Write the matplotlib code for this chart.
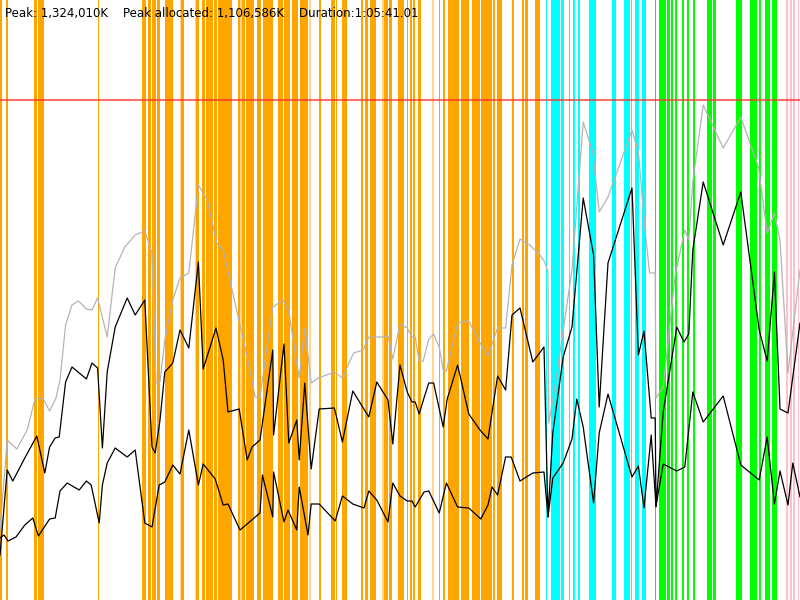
import matplotlib
matplotlib.use("Agg")
import matplotlib.pyplot as plt
import numpy as np

PEAK_K = 1324010
PEAK_ALLOC_K = 1106586
DURATION_S = 1 * 3600 + 5 * 60 + 41.01

# time as % of the run, memory as % of peak
total_t = [0, 0.9, 2.1, 3.4, 4.4, 5.4, 6.2, 7.0, 7.5, 8.2, 9.0, 9.8, 10.8, 11.5, 12.2, 13.4, 14.4, 15.6,
           16.9, 18.1, 19.0, 19.5, 20.0, 20.6, 21.6, 22.5, 23.6, 24.8, 25.9, 27.1, 27.9, 29.1, 30.9, 31.9,
           32.5, 33.8, 34.1, 35.4, 36.1, 37.4, 38.1, 38.9, 39.8, 41.8, 42.8, 44.2, 45.4, 46.1, 47.6, 48.5,
           49.1, 50.0, 50.9, 51.5, 51.9, 52.4, 52.9, 53.6, 54.2, 54.9, 55.4, 55.8, 57.2, 58.6, 60.0, 61.0,
           62.2, 63.2, 64.0, 65.0, 66.2, 67.5, 68.1, 68.5, 68.6, 69.5, 70.4, 71.5, 72.9, 74.1, 74.9, 76.0,
           79.0, 79.8, 80.6, 81.2, 81.9, 82.0, 82.9, 84.4, 85.6, 86.1, 86.6, 87.9, 90.4, 92.6, 94.8, 95.9,
           96.8, 97.5, 98.5, 100]
total_mem = [14, 32, 30.2, 34, 40.4, 40.2, 37.8, 40.4, 44, 55, 59, 59.8, 58.2, 58, 60.4, 52.6, 66.4, 70.6,
             73, 73.8, 69.4, 43.4, 43.6, 52, 60, 64.4, 65.4, 83, 80, 71.4, 70, 61.4, 48.6, 40.6,
             40.6, 55.4, 58.6, 60, 57.6, 44.4, 54.4, 43.4, 44.4, 45.6, 44.4, 49.4, 50, 52.6, 52.6, 52.8,
             48.2, 55.2, 54.4, 52.6, 52.6, 47.6, 47.8, 52.2, 53.2, 50.6, 46, 45.8, 55.4, 55.8, 51.4, 48.8,
             54.4, 54.4, 67, 72.2, 71, 69, 67.6, 65.6, 35.4, 44, 54, 66, 95.6, 89.6, 77.6, 80.6,
             94, 89.6, 74.6, 65.4, 65.4, 40.4, 42.6, 65, 74, 72, 83.6, 99, 90.4, 96.6, 86.6, 73.4,
             77.4, 72, 45.4, 66]

used_t = [0, 0.9, 1.6, 3.1, 4.6, 5.6, 6.2, 6.9, 7.4, 8.2, 9.0, 10.8, 11.5, 12.2, 12.8, 13.4, 14.4, 15.9,
          16.9, 18.1, 19.0, 19.4, 20.0, 20.6, 21.6, 22.5, 23.6, 24.8, 25.4, 27.0, 27.9, 28.5, 29.9, 30.9,
          31.5, 32.5, 34.1, 34.2, 35.5, 36.1, 37.1, 37.4, 38.1, 38.9, 39.9, 41.8, 42.8, 44.1, 46.1, 47.1,
          48.5, 49.1, 50.0, 50.9, 51.5, 51.9, 52.4, 53.0, 53.6, 54.2, 55.4, 55.9, 57.2, 58.6, 60.0, 61.0,
          62.2, 63.2, 64.0, 65.0, 66.6, 68.0, 68.5, 69.1, 70.4, 71.5, 72.9, 74.2, 74.9, 76.0, 79.0, 79.8,
          80.5, 81.4, 81.9, 82.0, 82.9, 84.6, 85.5, 86.1, 86.6, 87.9, 90.4, 92.6, 94.9, 95.9, 96.8, 97.5,
          98.5, 100]
used_mem = [9, 26, 23.8, 28.4, 32.8, 25.4, 30.6, 32.4, 32.6, 43.6, 46.6, 44.2, 47.4, 46.4, 30.4, 45.6, 54.6, 60.4,
            57, 60, 30.6, 29.4, 36, 45.6, 47.4, 54, 50.4, 67.6, 46.2, 54.4, 48, 37.6, 38.2, 28,
            30.6, 32, 50, 33, 51.2, 31.4, 36, 28, 43.4, 26.2, 38.2, 38.4, 31.6, 41.8, 36.6, 43.6,
            40, 31.2, 47, 41.6, 39.6, 39.6, 37.2, 40.4, 43.4, 43.4, 34.6, 40.2, 47, 37.2, 34, 32.2,
            44.8, 42, 57, 58.4, 47.6, 50.6, 16.6, 33.4, 48.6, 54.6, 80.4, 69, 38.6, 67.4, 82.4, 49,
            53.8, 36.4, 36.4, 18.6, 37.6, 54.6, 51.6, 53.2, 70, 83.6, 71, 81.6, 54, 47.8, 65.6, 38.2,
            37.4, 55.4]

live_t = [0, 0.5, 1.0, 2.0, 3.1, 4.1, 4.8, 6.2, 6.9, 7.5, 8.4, 9.9, 10.8, 11.4, 12.4, 12.8, 13.4, 14.4,
          15.9, 16.9, 18.1, 19.0, 19.9, 20.6, 21.6, 22.5, 23.6, 24.8, 25.4, 26.9, 27.9, 28.5, 30.0, 32.5,
          32.8, 34.1, 34.2, 35.5, 36.0, 37.1, 37.4, 38.5, 38.9, 39.9, 41.9, 42.8, 44.1, 45.5, 46.1, 47.1,
          48.5, 49.1, 50.0, 50.9, 51.5, 51.9, 53.0, 53.6, 54.9, 55.8, 57.2, 58.6, 60.1, 61.0, 61.5, 62.2,
          63.2, 63.9, 65.0, 66.6, 68.0, 68.5, 69.1, 70.4, 71.5, 72.1, 72.9, 74.2, 74.9, 76.0, 79.0, 79.8,
          80.5, 81.4, 82.0, 82.9, 84.6, 85.6, 86.6, 87.9, 90.4, 92.6, 94.9, 95.9, 96.8, 97.5, 98.5, 99.1,
          100]
live_mem = [12.4, 13, 11.8, 12.6, 15, 16.4, 12.8, 16.2, 16.4, 21.8, 23.4, 22, 23.8, 23, 15.4, 23, 27.4, 30.4,
            28.6, 30, 15.4, 14.6, 23, 23.6, 27, 25.2, 34, 23, 27.2, 24.2, 19, 19.2, 14, 17.4,
            25, 16.6, 25.6, 15.6, 18, 14, 22.6, 13, 19.2, 19.2, 15.8, 20.8, 19.2, 18.4, 21.8, 20,
            15.6, 23.4, 20.8, 19.8, 19.8, 18.6, 21.6, 21.8, 17.4, 23.4, 18.6, 18.4, 16.2, 19, 22.6, 21,
            28.6, 28.6, 23.8, 25.4, 25.6, 16.6, 24.4, 27.4, 32.2, 40.2, 34.6, 19.4, 33.4, 41.2, 24.6, 26.8,
            18.4, 33, 18.8, 27.2, 25.8, 26.6, 41.6, 35.6, 40.8, 27, 24, 32.6, 19.2, 25.8, 19, 27.4,
            20.6]

# event bands, start/end as % of the run
orange_start = [0, 0.75, 4.25, 4.75, 12.25, 17.75, 18.5, 19.0, 19.6, 20.6, 22.6, 24.5, 25.25, 25.75, 26.75,
                27.25, 28.65, 29.7, 30.2, 30.75, 32.1, 32.85, 34.7, 35.45, 36.5, 37.5, 39.9, 41.4, 41.95,
                42.75, 45.1, 45.6, 46.25, 48.0, 48.6, 49.75, 50.9, 51.25, 51.6, 52.25, 54.9, 55.4, 56.0,
                56.6, 57.6, 59.0, 60.1, 61.6, 62.1, 64.0, 65.25, 65.6, 66.9]
orange_end = [0.25, 1.0, 4.65, 5.5, 12.4, 18.25, 18.9, 19.5, 20.0, 21.6, 23.0, 24.9, 25.6, 26.6, 27.1,
              28.6, 29.0, 30.0, 30.6, 31.75, 32.6, 34.15, 35.35, 36.25, 37.25, 38.5, 40.1, 41.9, 42.1,
              43.4, 45.4, 46.0, 47.0, 48.5, 49.0, 50.5, 51.0, 51.5, 51.9, 52.6, 55.05, 55.6, 56.6,
              57.35, 58.6, 60.0, 61.5, 61.9, 62.75, 64.25, 65.5, 66.0, 67.5]
orange_faint_start = [22.5, 24.4, 30.0, 38.6, 47.75, 54.0]
orange_faint_end = [22.6, 24.5, 30.2, 38.9, 48.0, 54.25]
cyan_start = [68.25, 68.9, 70.1, 71.1, 71.6, 72.25, 73.6, 76.5, 78.0, 78.9, 79.4, 80.25]
cyan_end = [68.4, 70.0, 70.5, 71.25, 71.9, 72.5, 74.5, 77.0, 78.75, 79.0, 79.9, 80.75]
green_start = [81.9, 82.4, 83.4, 83.9, 84.4, 85.25, 85.9, 86.6, 88.4, 89.1, 92.0, 93.75, 94.9, 95.6, 96.5]
green_end = [82.0, 83.25, 83.75, 84.1, 84.6, 85.5, 86.1, 86.9, 89.0, 89.5, 92.75, 94.6, 95.1, 96.25, 97.1]
pink_start = [98.25, 98.75, 99.1, 99.75]
pink_end = [98.5, 99.0, 99.4, 99.9]


def sec(pct):
    return np.asarray(pct, dtype=float) * DURATION_S / 100


def kb(pct):
    return np.asarray(pct, dtype=float) * PEAK_K / 100


fig = plt.figure(figsize=(8, 6), dpi=100)
ax = fig.add_axes([0, 0, 1, 1])
ax.set_xlim(0, DURATION_S)
ax.set_ylim(0, PEAK_K * 1.2)
ax.axis("off")

bands = [(orange_start, orange_end, "#ffa500", 1.0),
         (orange_faint_start, orange_faint_end, "#ffa500", 0.45),
         (cyan_start, cyan_end, "#00ffff", 1.0),
         (green_start, green_end, "#00ff00", 1.0),
         (pink_start, pink_end, "#ffc0cb", 1.0)]
for starts, ends, col, a in bands:
    for s, e in zip(sec(starts), sec(ends)):
        ax.axvspan(s, e, color=col, alpha=a, lw=0, antialiased=False)

ax.plot(sec(total_t), kb(total_mem), color="#b4b4b4", lw=0.9)
ax.plot(sec(used_t), kb(used_mem), color="black", lw=0.9)
ax.plot(sec(live_t), kb(live_mem), color="black", lw=0.9)

ax.axhline(PEAK_K, color="#ff3030", alpha=0.7, lw=1.5)

label = "Peak: {:,}K    Peak allocated: {:,}K    Duration:1:05:41.01".format(PEAK_K, PEAK_ALLOC_K)
fig.text(5 / 800, 1 - 13 / 600, label, fontsize=8.5, va="center", ha="left", color="black")

fig.savefig("out.png", dpi=100)
